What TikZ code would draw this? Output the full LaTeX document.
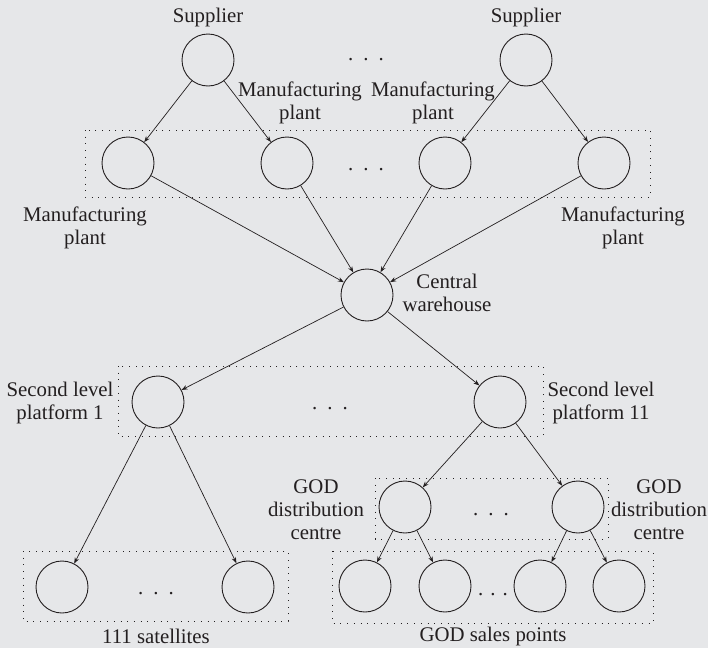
\documentclass[tikz,border=0pt]{standalone}
\usepackage{fontspec}
\setmainfont{Liberation Serif}
\usetikzlibrary{arrows.meta}
\definecolor{bg}{RGB}{230,231,233}
\definecolor{ink}{RGB}{35,31,32}
\begin{document}
\begin{tikzpicture}[x=1pt,y=-1pt,
  hub/.style={circle,draw=ink,line width=0.9pt,minimum size=52pt,inner sep=0pt},
  lbl/.style={text=ink,align=center,font=\fontsize{20.8}{23}\selectfont,inner sep=0pt},
  dotrow/.style={text=ink,font=\fontsize{20.8}{23}\selectfont,inner sep=0pt,anchor=base},
  grp/.style={draw=ink,line width=0.9pt,dash pattern=on 0.9pt off 5.8pt},
  flow/.style={draw=ink,line width=0.7pt,-{Stealth[length=6pt,width=4.5pt]}}]
\fill[bg] (0,0) rectangle (708,648);
\clip (0,0) rectangle (708,648);
\useasboundingbox (0,0) rectangle (708,648);

% dotted groups
\draw[grp] (85,130) rectangle (650,197);
\draw[grp] (118,366) rectangle (543,436);
\draw[grp] (375,478) rectangle (608,539);
\draw[grp] (23,551) rectangle (288,621);
\draw[grp] (332,551) rectangle (653,623);

% circles
\node[hub] (s1) at (208,60) {};
\node[hub] (s2) at (526,60) {};
\node[hub] (m1) at (128,163) {};
\node[hub] (m2) at (287,163) {};
\node[hub] (m3) at (445,163) {};
\node[hub] (m4) at (604,163) {};
\node[hub] (cw) at (367,295) {};
\node[hub] (p1) at (158,402) {};
\node[hub] (p11) at (500,402) {};
\node[hub] (g1) at (405,507) {};
\node[hub] (g2) at (578,507) {};
\node[hub] (t1) at (62,587) {};
\node[hub] (t2) at (248,587) {};
\node[hub] (q1) at (365,586) {};
\node[hub] (q2) at (445,586) {};
\node[hub] (q3) at (540,586) {};
\node[hub] (q4) at (619,586) {};

% ellipses
\node[dotrow] (d1) at (366,60) {.\hspace{10pt}.\hspace{10pt}.};
\node[dotrow] (d2) at (366,170) {.\hspace{10pt}.\hspace{10pt}.};
\node[dotrow] (d3) at (330,409) {.\hspace{10pt}.\hspace{10pt}.};
\node[dotrow] (d4) at (491,515) {.\hspace{10pt}.\hspace{10pt}.};
\node[dotrow] (d5) at (156,594) {.\hspace{10pt}.\hspace{10pt}.};
\node[dotrow] (d6) at (493,595) {.\hspace{7pt}.\hspace{7pt}.};

% labels
\node[lbl] (ls1) at (208,17) {Supplier};
\node[lbl] (ls2) at (526,17) {Supplier};
\node[lbl] (lm1) at (85,227.5) {Manufacturing\\plant};
\node[lbl] (lm2) at (300,103) {Manufacturing\\plant};
\node[lbl] (lm3) at (433,103) {Manufacturing\\plant};
\node[lbl] (lm4) at (623,227.5) {Manufacturing\\plant};
\node[lbl] (lcw) at (447,292.5) {Central\\warehouse};
\node[lbl] (lp1) at (60,402.5) {Second level\\platform 1};
\node[lbl] (lp11) at (601,402.5) {Second level\\platform 11};
\node[lbl] (lg1) at (316,510) {GOD\\distribution\\centre};
\node[lbl] (lg2) at (659,510) {GOD\\distribution\\centre};
\node[lbl] (lt) at (156,636) {111 satellites};
\node[lbl] (lq) at (493,636) {GOD sales points};

% flows
\draw[flow] (s1) -- (m1);
\draw[flow] (s1) -- (m2);
\draw[flow] (s2) -- (m3);
\draw[flow] (s2) -- (m4);
\draw[flow] (m1) -- (cw);
\draw[flow] (m2) -- (cw);
\draw[flow] (m3) -- (cw);
\draw[flow] (m4) -- (cw);
\draw[flow] (cw) -- (p1);
\draw[flow] (cw) -- (p11);
\draw[flow] (p1) -- (t1);
\draw[flow] (p1) -- (t2);
\draw[flow] (p11) -- (g1);
\draw[flow] (p11) -- (g2);
\draw[flow] (g1) -- (q1);
\draw[flow] (g1) -- (q2);
\draw[flow] (g2) -- (q3);
\draw[flow] (g2) -- (q4);
\end{tikzpicture}
\end{document}
